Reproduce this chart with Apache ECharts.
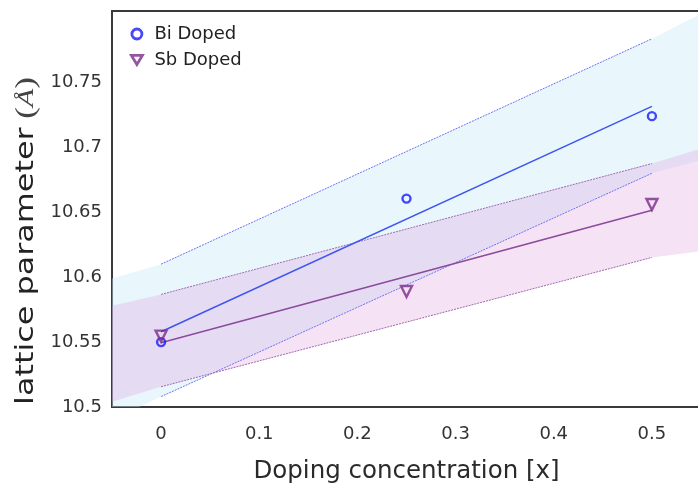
<!DOCTYPE html>
<html>
<head>
<meta charset="utf-8">
<script src="https://cdn.jsdelivr.net/npm/echarts@6/dist/echarts.min.js"></script>
<style>
  html, body { margin: 0; padding: 0; background: #fff; }
  #chart { width: 698px; height: 483px; }
</style>
</head>
<body>
<div id="chart"></div>
<script>
// measured points
const xPts = [0, 0.25, 0.5];
const biPts = [10.550, 10.6605, 10.724];
const sbPts = [10.5546, 10.589, 10.656];

// linear fits and their dashed bounds (drawn 0 .. 0.5)
const xFit = [0, 0.5];
const biFit = [10.558, 10.7315];
const sbFit = [10.5495, 10.6515];
const biUpper = [10.610, 10.7836];
const biLower = [10.508, 10.680];
const sbUpper = [10.5867, 10.6875];
const sbLower = [10.5156, 10.6152];

// shaded bands, read at the plot edges and at 0 / 0.5
const xBand = [-0.05, 0, 0.5, 0.55];
const biBandUp = [10.599, 10.610, 10.7836, 10.803];
const biBandLo = [10.490, 10.508, 10.680, 10.690];
const sbBandUp = [10.578, 10.5867, 10.6875, 10.699];
const sbBandLo = [10.504, 10.5156, 10.6152, 10.620];

const xTicks = [0, 0.1, 0.2, 0.3, 0.4, 0.5];
const yTicks = [10.5, 10.55, 10.6, 10.65, 10.7, 10.75];

const pairs = (xs, ys) => xs.map((x, i) => [x, ys[i]]);

function band(up, lo, fill) {
  return {
    type: 'custom',
    clip: true,
    silent: true,
    z: 1,
    data: [[xBand[0], lo[0]]],
    renderItem(params, api) {
      const pts = [];
      xBand.forEach((x, i) => pts.push(api.coord([x, up[i]])));
      for (let i = xBand.length - 1; i >= 0; i--) pts.push(api.coord([xBand[i], lo[i]]));
      return { type: 'polygon', shape: { points: pts }, style: { fill: fill } };
    }
  };
}

function dashed(ys, color) {
  return {
    type: 'line',
    data: pairs(xFit, ys),
    symbol: 'none',
    silent: true,
    z: 2,
    lineStyle: { color: color, width: 1, type: [2, 1] }
  };
}

const triDown = 'path://M0,0L12,0L6,10Z';

const chart = echarts.init(document.getElementById('chart'));
chart.setOption({
  animation: false,
  textStyle: { fontFamily: 'DejaVu Sans' },
  grid: {
    left: 112, top: 11, width: 589, height: 396,
    show: true, borderColor: '#3a3a3a', borderWidth: 2,
    outerBoundsMode: 'none'
  },
  legend: {
    orient: 'vertical',
    left: 125, top: 20,
    itemWidth: 11, itemHeight: 10, itemGap: 8,
    itemStyle: { borderWidth: 2.8 },
    textStyle: { fontSize: 18, lineHeight: 18, color: '#222', fontFamily: 'DejaVu Sans', padding: [0, 0, 0, 7] },
    data: [
      { name: 'Bi Doped', icon: 'circle' },
      { name: 'Sb Doped', icon: triDown }
    ]
  },
  xAxis: {
    type: 'value',
    min: -0.05, max: 0.55,
    name: 'Doping concentration [x]',
    nameLocation: 'middle',
    nameGap: 52,
    nameTextStyle: { fontSize: 24.5, color: '#2a2a2a', fontFamily: 'DejaVu Sans' },
    axisLine: { show: false },
    axisTick: { show: false },
    splitLine: { show: false },
    axisLabel: {
      customValues: xTicks,
      margin: 18,
      fontSize: 18,
      color: '#333',
      fontFamily: 'DejaVu Sans'
    }
  },
  yAxis: {
    type: 'value',
    min: 10.5, max: 10.805,
    axisLine: { show: false },
    axisTick: { show: false },
    splitLine: { show: false },
    axisLabel: {
      customValues: yTicks,
      margin: 10,
      fontSize: 18,
      color: '#333',
      fontFamily: 'DejaVu Sans'
    }
  },
  graphic: [{
    type: 'text',
    x: 27, y: 241,
    rotation: Math.PI / 2,
    scaleX: 1.3,
    style: {
      text: '{a|lattice parameter}  {b|(}{c|Å}{b|)}',
      align: 'center',
      verticalAlign: 'middle',
      fill: '#222',
      rich: {
        a: { fontSize: 24.5, fontFamily: 'DejaVu Sans', fill: '#222' },
        b: { fontSize: 27, fontFamily: 'Liberation Serif', fill: '#444' },
        c: { fontSize: 23, fontFamily: 'Liberation Serif', fontStyle: 'italic', fill: '#444' }
      }
    }
  }],
  series: [
    band(biBandUp, biBandLo, 'rgba(200,235,250,0.4)'),
    band(sbBandUp, sbBandLo, 'rgba(220,150,220,0.28)'),
    dashed(biUpper, '#6f72f0'),
    dashed(biLower, '#6f72f0'),
    dashed(sbUpper, '#9c6aae'),
    dashed(sbLower, '#9c6aae'),
    {
      type: 'line',
      data: pairs(xFit, biFit),
      symbol: 'none',
      silent: true,
      z: 3,
      lineStyle: { color: '#3f55f0', width: 1.5 }
    },
    {
      type: 'line',
      data: pairs(xFit, sbFit),
      symbol: 'none',
      silent: true,
      z: 3,
      lineStyle: { color: '#8c4a9c', width: 1.5 }
    },
    {
      name: 'Bi Doped',
      type: 'scatter',
      z: 4,
      data: pairs(xPts, biPts),
      symbol: 'circle',
      symbolSize: 8,
      itemStyle: { color: 'rgba(255,255,255,0)', borderColor: '#1a1af5', borderWidth: 2.4 }
    },
    {
      name: 'Sb Doped',
      type: 'scatter',
      z: 4,
      data: pairs(xPts, sbPts),
      symbol: 'triangle',
      symbolRotate: 180,
      symbolSize: 11,
      itemStyle: { color: 'rgba(255,255,255,0)', borderColor: '#7b2c8a', borderWidth: 2.4 }
    }
  ]
});
</script>
</body>
</html>
